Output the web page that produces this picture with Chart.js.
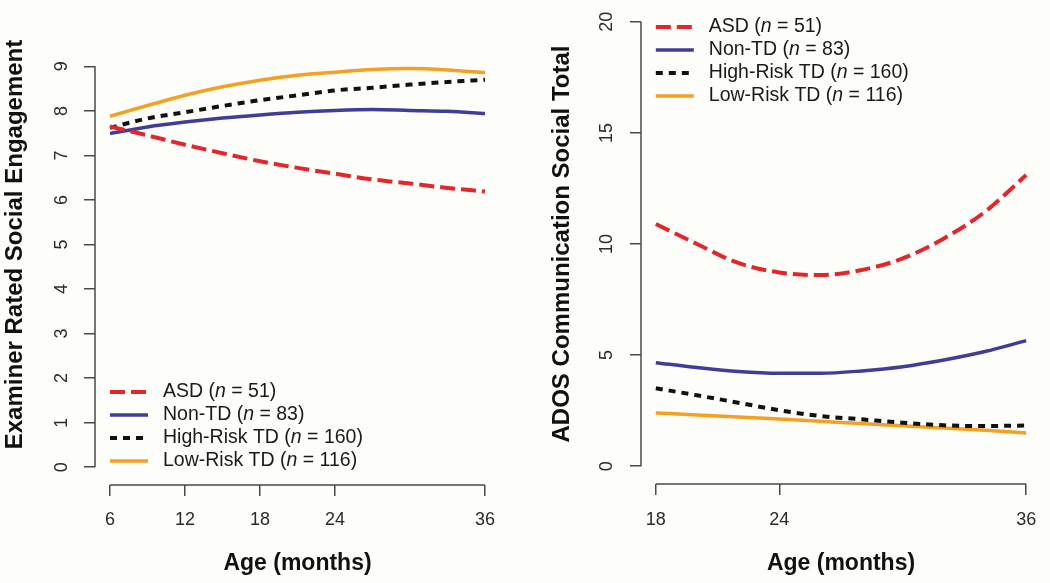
<!DOCTYPE html>
<html>
<head>
<meta charset="utf-8">
<script src="https://cdn.jsdelivr.net/npm/chart.js@4.4.1/dist/chart.umd.min.js"></script>
<style>
  html, body { margin: 0; padding: 0; background: #fdfdfa; }
  #wrap { position: relative; width: 1050px; height: 583px; background: #fdfdfa; overflow: hidden; }
  canvas { position: absolute; top: 0; }
  #c1 { left: 0; }
  #c2 { left: 520px; }
</style>
</head>
<body>
<div id="wrap">
  <canvas id="c1" width="520" height="583"></canvas>
  <canvas id="c2" width="530" height="583"></canvas>
</div>
<script>
// ---------- data ----------
const groups = ['ASD', 'Non-TD', 'High-Risk TD', 'Low-Risk TD'];
const groupN = [51, 83, 160, 116];

// Left panel: Examiner Rated Social Engagement
const agesLeft = [6, 9, 12, 15, 18, 21, 24, 27, 30, 33, 36];
const asdLeft    = [7.65, 7.45, 7.24, 7.05, 6.87, 6.72, 6.59, 6.46, 6.37, 6.27, 6.19];
const nonTdLeft  = [7.49, 7.64, 7.75, 7.84, 7.91, 7.97, 8.01, 8.03, 8.01, 7.99, 7.94];
const hrTdLeft   = [7.62, 7.83, 7.97, 8.11, 8.24, 8.35, 8.46, 8.52, 8.59, 8.65, 8.70];
const lrTdLeft   = [7.88, 8.12, 8.35, 8.54, 8.69, 8.80, 8.87, 8.93, 8.95, 8.92, 8.86];
const xTicksLeft = [6, 12, 18, 24, 36];
const yTicksLeft = [0, 1, 2, 3, 4, 5, 6, 7, 8, 9];

// Right panel: ADOS Communication Social Total
const agesRight = [18, 20, 22, 24, 26, 28, 30, 32, 34, 36];
const asdRight   = [10.9, 10.0, 9.15, 8.72, 8.6, 8.83, 9.35, 10.25, 11.45, 13.1];
const nonTdRight = [4.66, 4.44, 4.26, 4.18, 4.18, 4.29, 4.48, 4.78, 5.16, 5.65];
const hrTdRight  = [3.51, 3.19, 2.86, 2.52, 2.26, 2.11, 1.96, 1.84, 1.81, 1.83];
const lrTdRight  = [2.40, 2.31, 2.21, 2.12, 2.02, 1.92, 1.82, 1.72, 1.62, 1.50];
const xTicksRight = [18, 24, 36];
const yTicksRight = [0, 5, 10, 15, 20];

// ---------- styles ----------
const FONT = '"Liberation Sans", Arial, Helvetica, sans-serif';
const seriesStyle = [
  { color: '#e3262b', width: 4,   dash: [15, 6] },
  { color: '#3f3d98', width: 3.5, dash: [] },
  { color: '#111111', width: 4,   dash: [7, 6] },
  { color: '#f4a023', width: 3.5, dash: [] }
];
const AXIS_COLOR = '#4a4a4a';

function makeDatasets(ages, seriesList) {
  return seriesList.map((vals, i) => ({
    label: groups[i],
    data: ages.map((a, k) => ({ x: a, y: vals[k] })),
    borderColor: seriesStyle[i].color,
    backgroundColor: seriesStyle[i].color,
    borderWidth: seriesStyle[i].width,
    borderDash: seriesStyle[i].dash,
    borderCapStyle: 'butt',
    pointRadius: 0,
    cubicInterpolationMode: 'monotone',
    fill: false
  }));
}

// draws the R-style axis line from first to last tick, using the scales
const axisLinePlugin = {
  id: 'axisLine',
  afterDraw(chart) {
    const { ctx, chartArea, scales } = chart;
    ctx.save();
    ctx.strokeStyle = AXIS_COLOR;
    ctx.lineWidth = 1.5;
    ctx.setLineDash([]);
    const xt = scales.x.ticks, yt = scales.y.ticks;
    ctx.beginPath();
    ctx.moveTo(scales.x.getPixelForValue(xt[0].value), chartArea.bottom);
    ctx.lineTo(scales.x.getPixelForValue(xt[xt.length - 1].value), chartArea.bottom);
    ctx.moveTo(chartArea.left, scales.y.getPixelForValue(yt[0].value));
    ctx.lineTo(chartArea.left, scales.y.getPixelForValue(yt[yt.length - 1].value));
    ctx.stroke();
    ctx.restore();
  }
};

// legend with italic n, drawn in the plot region
const rLegendPlugin = {
  id: 'rLegend',
  afterDraw(chart, args, opts) {
    const { ctx, chartArea, scales } = chart;
    const dsets = chart.data.datasets;
    const rowH = 23;
    const x0 = scales.x.getPixelForValue(scales.x.ticks[0].value);
    let y0 = opts.anchor === 'bottom'
      ? chartArea.bottom - opts.offset - (dsets.length - 1) * rowH
      : chartArea.top + opts.offset;
    const fs = 19.5;
    dsets.forEach((ds, i) => {
      const y = y0 + i * rowH;
      ctx.save();
      ctx.strokeStyle = ds.borderColor;
      ctx.lineWidth = ds.borderWidth;
      ctx.lineCap = 'butt';
      ctx.setLineDash(ds.borderDash || []);
      ctx.beginPath();
      ctx.moveTo(x0, y);
      ctx.lineTo(x0 + 38, y);
      ctx.stroke();
      ctx.setLineDash([]);
      ctx.fillStyle = '#1a1a1a';
      ctx.textBaseline = 'middle';
      ctx.textAlign = 'left';
      let tx = x0 + 53;
      const parts = [
        { t: groups[i] + ' (', f: `${fs}px ${FONT}` },
        { t: 'n', f: `italic ${fs}px ${FONT}` },
        { t: ' = ' + groupN[i] + ')', f: `${fs}px ${FONT}` }
      ];
      parts.forEach(p => {
        ctx.font = p.f;
        ctx.fillText(p.t, tx, y);
        tx += ctx.measureText(p.t).width;
      });
      ctx.restore();
    });
  }
};

function buildChart(canvasId, cfg) {
  return new Chart(document.getElementById(canvasId), {
    type: 'line',
    data: { datasets: makeDatasets(cfg.ages, cfg.series) },
    options: {
      responsive: false,
      animation: false,
      devicePixelRatio: 1,
      layout: { padding: cfg.padding, autoPadding: false },
      plugins: {
        legend: { display: false },
        tooltip: { enabled: false },
        rLegend: cfg.legend
      },
      scales: {
        x: {
          type: 'linear',
          min: cfg.xMin, max: cfg.xMax,
          afterBuildTicks: s => { s.ticks = cfg.xTicks.map(v => ({ value: v })); },
          afterFit: s => { s.height = cfg.xAxisH; s.paddingLeft = 0; s.paddingRight = 0; },
          grid: { display: true, drawOnChartArea: false, drawTicks: true, tickLength: 11, color: AXIS_COLOR, lineWidth: 1.5 },
          border: { display: false },
          ticks: { autoSkip: false, maxRotation: 0, minRotation: 0, padding: cfg.xTickPad, color: '#2a2a2a', font: { family: FONT, size: 18 } },
          title: { display: true, text: 'Age (months)', color: '#111', font: { family: FONT, size: 23, weight: 'bold' }, padding: { top: 0, bottom: 6 } }
        },
        y: {
          type: 'linear',
          min: cfg.yMin, max: cfg.yMax,
          afterBuildTicks: s => { s.ticks = cfg.yTicks.map(v => ({ value: v })); },
          afterFit: s => { s.width = cfg.yAxisW; s.paddingTop = 0; s.paddingBottom = 0; },
          grid: { display: true, drawOnChartArea: false, drawTicks: true, tickLength: 11, color: AXIS_COLOR, lineWidth: 1.5 },
          border: { display: false },
          ticks: { autoSkip: false, minRotation: 90, maxRotation: 90, crossAlign: 'center', padding: cfg.yTickPad, color: '#2a2a2a', font: { family: FONT, size: 18 } },
          title: { display: true, text: cfg.yTitle, color: '#111', font: { family: FONT, size: 24, weight: 'bold' }, padding: { top: cfg.yTitlePad, bottom: 0 } }
        }
      }
    },
    plugins: [axisLinePlugin, rLegendPlugin]
  });
}

buildChart('c1', {
  ages: agesLeft,
  series: [asdLeft, nonTdLeft, hrTdLeft, lrTdLeft],
  xMin: 4.8, xMax: 37.2, yMin: -0.4, yMax: 10.4,
  xTicks: xTicksLeft, yTicks: yTicksLeft,
  padding: { left: 0, right: 20, top: 4, bottom: 0 },
  xAxisH: 98, yAxisW: 95,
  xTickPad: 13, yTickPad: 17, yTitlePad: 1,
  yTitle: 'Examiner Rated Social Engagement',
  legend: { anchor: 'bottom', offset: 24 }
});

buildChart('c2', {
  ages: agesRight,
  series: [asdRight, nonTdRight, hrTdRight, lrTdRight],
  xMin: 17.28, xMax: 36.72, yMin: -0.8, yMax: 20.8,
  xTicks: xTicksRight, yTicks: yTicksRight,
  padding: { left: 0, right: 9, top: 4, bottom: 0 },
  xAxisH: 99, yAxisW: 121,
  xTickPad: 14, yTickPad: 13, yTitlePad: 28,
  yTitle: 'ADOS Communication Social Total',
  legend: { anchor: 'top', offset: 23 }
});
</script>
</body>
</html>
